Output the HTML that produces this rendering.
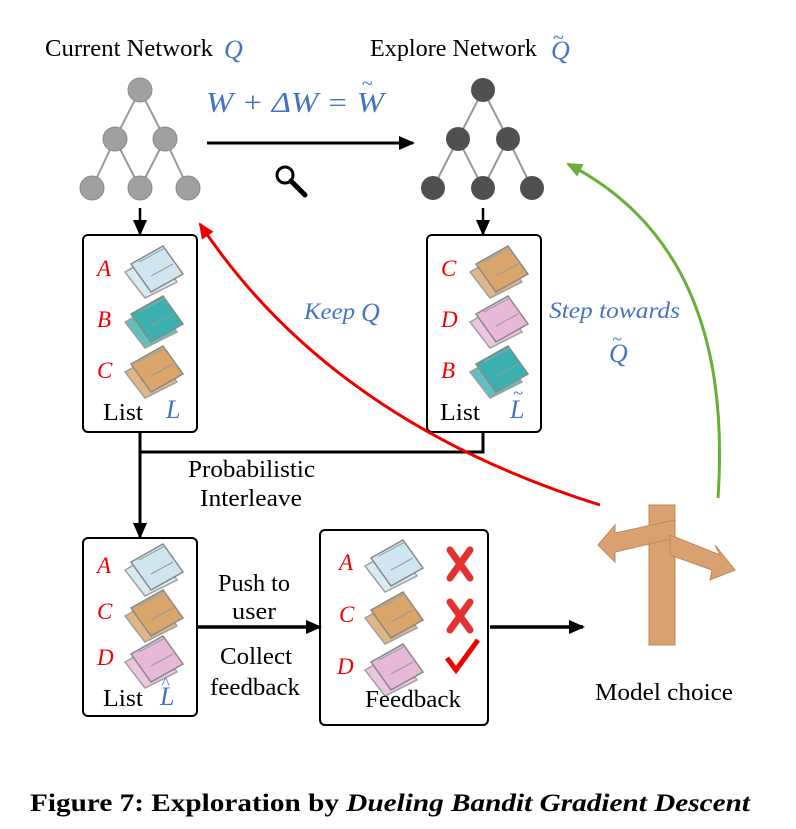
<!DOCTYPE html>
<html><head><meta charset="utf-8"><style>body{margin:0;background:#fff}svg{display:block}</style></head><body>
<svg width="796" height="829" viewBox="0 0 796 829" xmlns="http://www.w3.org/2000/svg" font-family="Liberation Serif, serif">
<defs>
<marker id="ab" markerWidth="16" markerHeight="14" refX="14" refY="7" orient="auto" markerUnits="userSpaceOnUse"><path d="M0,0L16,7L0,14z" fill="#000"/></marker>
<marker id="ar" markerWidth="16" markerHeight="14" refX="14" refY="7" orient="auto" markerUnits="userSpaceOnUse"><path d="M0,0L16,7L0,14z" fill="#e00"/></marker>
<marker id="ag" markerWidth="16" markerHeight="14" refX="14" refY="7" orient="auto" markerUnits="userSpaceOnUse"><path d="M0,0L16,7L0,14z" fill="#6aae3a"/></marker>
<g id="news">
<path d="M0,26 L32,8 L52,36 L20,52z" fill="currentColor" stroke="#888" stroke-width="1.5" opacity="0.8"/>
<path d="M6,18 L38,0 L58,28 L26,46z" fill="currentColor" stroke="#888" stroke-width="1.5"/>
<line x1="14" y1="16" x2="40" y2="2" stroke="#8aa" stroke-width="1"/>
<line x1="26" y1="30" x2="48" y2="18" stroke="#999" stroke-width="1"/>
</g>
</defs>
<g lengthAdjust="spacingAndGlyphs">
<text x="45" y="56" font-size="24" textLength="168" lengthAdjust="spacingAndGlyphs">Current Network</text>
<text x="224" y="58" font-size="26" font-style="italic" fill="#4472c4">Q</text>
<text x="370" y="56" font-size="24" textLength="167" lengthAdjust="spacingAndGlyphs">Explore Network</text>
<text x="551" y="59" font-size="26" font-style="italic" fill="#4472c4">Q</text><text x="553" y="44" font-size="20" fill="#4472c4">~</text>
<text x="206" y="112" font-size="28" font-style="italic" fill="#4472c4" textLength="178" lengthAdjust="spacingAndGlyphs">W + ΔW = W</text>
<text x="362" y="90" font-size="20" fill="#4472c4">~</text>
</g>
<g stroke="#999" stroke-width="2" fill="none">
<path d="M92,188L115,139L140,188L165,139L188,188M115,139L140,90L165,139"/>
<path d="M433,188L458,139L483,188L508,139L532,188M458,139L483,90L508,139"/>
</g>
<g fill="#a0a0a0" stroke="#8a8a8a"><circle cx="140" cy="90" r="12"/><circle cx="115" cy="139" r="12"/><circle cx="165" cy="139" r="12"/><circle cx="92" cy="188" r="12"/><circle cx="140" cy="188" r="12"/><circle cx="188" cy="188" r="12"/></g>
<g fill="#505050"><circle cx="483" cy="90" r="12"/><circle cx="458" cy="139" r="12"/><circle cx="508" cy="139" r="12"/><circle cx="433" cy="188" r="12"/><circle cx="483" cy="188" r="12"/><circle cx="532" cy="188" r="12"/></g>
<line x1="207" y1="143" x2="413" y2="143" stroke="#000" stroke-width="3" marker-end="url(#ab)"/>
<circle cx="285" cy="175" r="8" fill="none" stroke="#000" stroke-width="3"/><line x1="291" y1="181" x2="305" y2="195" stroke="#000" stroke-width="5" stroke-linecap="round"/>
<g stroke="#000" stroke-width="2.5" fill="none">
<line x1="140" y1="208" x2="140" y2="234" marker-end="url(#ab)"/>
<line x1="483" y1="208" x2="483" y2="234" marker-end="url(#ab)"/>
<rect x="83" y="235" width="114" height="197" rx="5" stroke-width="2"/>
<rect x="427" y="235" width="114" height="197" rx="5" stroke-width="2"/>
<path d="M140,432V537" stroke-width="3" marker-end="url(#ab)"/>
<path d="M140,452H483V432" stroke-width="3"/>
<rect x="83" y="538" width="114" height="178" rx="5" stroke-width="2"/>
<rect x="320" y="530" width="168" height="195" rx="5" stroke-width="2"/>
<line x1="197" y1="627" x2="320" y2="627" stroke-width="3.5" marker-end="url(#ab)"/>
<line x1="490" y1="627" x2="583" y2="627" stroke-width="3.5" marker-end="url(#ab)"/>
</g>
<g font-size="23" font-style="italic" fill="#e00">
<text x="97" y="276">A</text><text x="97" y="327">B</text><text x="97" y="378">C</text>
<text x="441" y="276">C</text><text x="441" y="327">D</text><text x="441" y="378">B</text>
<text x="97" y="573">A</text><text x="97" y="619">C</text><text x="97" y="665">D</text>
<text x="339" y="570">A</text><text x="339" y="622">C</text><text x="337" y="674">D</text>
</g>
<use href="#news" x="125" y="246" color="#cfe6f0"/><use href="#news" x="125" y="296" color="#3bb0b0"/><use href="#news" x="125" y="346" color="#d9a56a"/>
<use href="#news" x="470" y="246" color="#d9a56a"/><use href="#news" x="470" y="296" color="#e8b8d8"/><use href="#news" x="470" y="346" color="#3bb0b0"/>
<use href="#news" x="125" y="544" color="#cfe6f0"/><use href="#news" x="125" y="590" color="#d9a56a"/><use href="#news" x="125" y="636" color="#e8b8d8"/>
<use href="#news" x="365" y="540" color="#cfe6f0"/><use href="#news" x="365" y="592" color="#d9a56a"/><use href="#news" x="365" y="644" color="#e8b8d8"/>
<g stroke="#e53030" stroke-width="7" stroke-linecap="round"><path d="M450,550L470,578M470,550L450,578M450,602L470,630M470,602L450,630"/></g>
<path d="M447,658L456,670L478,640" stroke="#e00" stroke-width="5" fill="none"/>
<g font-size="24">
<text x="103" y="420" textLength="40" lengthAdjust="spacingAndGlyphs">List</text>
<text x="440" y="420" textLength="40" lengthAdjust="spacingAndGlyphs">List</text>
<text x="103" y="706" textLength="40" lengthAdjust="spacingAndGlyphs">List</text>
<text x="365" y="707" textLength="96" lengthAdjust="spacingAndGlyphs">Feedback</text>
<text x="188" y="477" textLength="127" lengthAdjust="spacingAndGlyphs">Probabilistic</text>
<text x="200" y="506" textLength="102" lengthAdjust="spacingAndGlyphs">Interleave</text>
<text x="218" y="591" textLength="72" lengthAdjust="spacingAndGlyphs">Push to</text>
<text x="232" y="619" textLength="44" lengthAdjust="spacingAndGlyphs">user</text>
<text x="220" y="664" textLength="72" lengthAdjust="spacingAndGlyphs">Collect</text>
<text x="210" y="695" textLength="90" lengthAdjust="spacingAndGlyphs">feedback</text>
<text x="595" y="700" textLength="138" lengthAdjust="spacingAndGlyphs">Model choice</text></g>
<g font-size="26" font-style="italic" fill="#4472c4"><text x="166" y="418">L</text><text x="510" y="418">L</text><text x="513" y="399" font-size="18">~</text>
<text x="160" y="705">L</text><text x="161" y="689" font-size="18">^</text>
<text x="304" y="319" font-size="23" textLength="51" lengthAdjust="spacingAndGlyphs">Keep</text><text x="361" y="321">Q</text>
<text x="549" y="318" font-size="23" textLength="131" lengthAdjust="spacingAndGlyphs">Step towards</text><text x="609" y="362">Q</text><text x="612" y="345" font-size="18">~</text></g>
<path d="M600,505 Q330,420 200,224" stroke="#e00" stroke-width="3" fill="none" marker-end="url(#ar)"/>
<path d="M718,498 Q735,250 568,164" stroke="#6aae3a" stroke-width="3" fill="none" marker-end="url(#ag)"/>
<g fill="#d9a070" stroke="#c08858">
<rect x="649" y="505" width="26" height="140"/>
<path d="M598,545L615,525L615,533L675,520L675,538L615,552L615,562z"/>
<path d="M670,535L720,555L715,545L735,570L710,580L712,570L670,555z"/>
</g>
<text x="30" y="811" font-size="25" font-weight="bold" textLength="720" lengthAdjust="spacingAndGlyphs">Figure 7: Exploration by <tspan font-style="italic">Dueling Bandit Gradient Descent</tspan></text>
</svg>
</body></html>
